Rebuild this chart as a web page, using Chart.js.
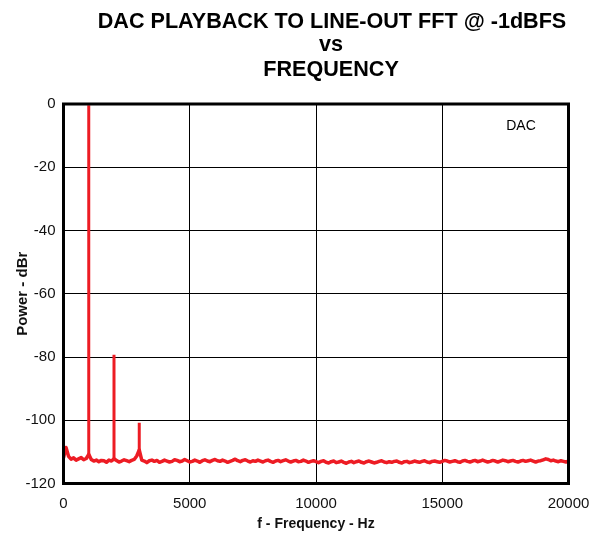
<!DOCTYPE html>
<html>
<head>
<meta charset="utf-8">
<title>DAC Playback to Line-Out FFT</title>
<script src="https://cdn.jsdelivr.net/npm/chart.js@4.4.1/dist/chart.umd.min.js"></script>
<style>
    html, body { margin: 0; padding: 0; background: #fff; }
    #fft-chart { display: block; }
</style>
</head>
<body>
<canvas id="fft-chart" width="593" height="533"></canvas>
<script>
// Title lines and trace label
const titleLines = ['DAC PLAYBACK TO LINE-OUT FFT @ -1dBFS', 'vs', 'FREQUENCY'];
const traceLabel = 'DAC';

// Axis ticks
const freqTicks = [0, 5000, 10000, 15000, 20000];
const powerTicks = [0, -20, -40, -60, -80, -100, -120];

// Noise floor, one reading every 100 Hz from 0 Hz to 20 kHz (dBr)
const floorStartHz = 0;
const floorStepHz = 100;
const floorDbr = [
    -111.9, -108.6, -111.4, -112.3, -111.9, -112.6, -112.2, -111.8, -112.5, -112.1,
    -110.8, -112.4, -112.9, -112.6, -113.1, -112.7, -112.8, -113.3, -112.6, -112.9,
    -112.2, -112.7, -113.2, -112.9, -112.5, -112.8, -113.1, -112.7, -112.4, -111.3,
    -109.4, -112.6, -112.9, -113.4, -112.8, -112.6, -113.0, -112.7, -113.3, -113.0,
    -112.6, -112.9, -113.2, -113.0, -112.5, -112.7, -113.1, -112.9, -112.4, -112.8,
    -113.2, -113.0, -112.6, -112.9, -113.3, -112.8, -112.5, -112.9, -113.1, -112.7,
    -112.4, -112.8, -113.0, -112.6, -112.9, -113.3, -113.0, -112.7, -112.3, -112.8,
    -113.1, -112.7, -112.5, -112.9, -113.2, -112.8, -113.0, -112.6, -112.9, -113.2,
    -112.8, -112.6, -113.0, -113.3, -112.9, -112.7, -113.1, -112.8, -112.5, -112.9,
    -113.2, -112.9, -112.7, -113.1, -113.0, -112.6, -112.9, -113.3, -113.0, -112.8,
    -113.1, -113.4, -113.0, -112.8, -113.3, -113.5, -113.1, -112.9, -113.4, -113.2,
    -112.9, -113.3, -113.6, -113.2, -113.0, -113.4, -113.1, -112.9, -113.3, -113.5,
    -113.1, -112.9, -113.2, -113.5, -113.3, -113.0, -112.8, -113.2, -113.4, -113.1,
    -113.3, -113.0, -112.9, -113.3, -113.5, -113.1, -113.0, -113.4, -113.2, -112.9,
    -113.1, -113.3, -113.0, -112.8, -113.2, -113.4, -113.0, -112.9, -113.1, -113.3,
    -113.0, -112.7, -112.9, -113.2, -113.0, -112.8, -113.1, -113.3, -112.9, -112.7,
    -113.0, -113.2, -112.9, -112.7, -113.1, -112.9, -112.6, -112.9, -113.2, -113.0,
    -112.7, -112.9, -113.2, -112.9, -112.6, -112.8, -113.1, -112.9, -112.7, -113.0,
    -113.2, -112.9, -112.7, -113.0, -112.8, -112.6, -112.9, -113.2, -112.9, -112.8,
    -112.5, -112.2, -112.4, -112.8, -112.6, -112.9, -113.1, -112.8, -113.0, -113.2,
    -112.9
];

// Fundamental and harmonics
const spikeHz = [1000, 2000, 3000];
const spikeBaseDbr = [-111.5, -112.0, -110.0];
const spikePeakDbr = [-0.4, -79.3, -100.8];

const traceColor = '#ed1c24';
const fontFamily = '"Liberation Sans", Arial, Helvetica, sans-serif';

// Build the floor trace
const floorPoints = floorDbr.map((v, i) => ({ x: floorStartHz + i * floorStepHz, y: v }));

// Build the spikes as separate vertical strokes
const spikePoints = [];
spikeHz.forEach((f, i) => {
    spikePoints.push({ x: f, y: spikeBaseDbr[i] });
    spikePoints.push({ x: f, y: spikePeakDbr[i] });
    spikePoints.push({ x: f, y: null });
});

// Draws the heading, the trace label and the heavy frame
const framePlugin = {
    id: 'frame',
    afterDraw(chart) {
        const { ctx, chartArea } = chart;
        ctx.save();
        ctx.strokeStyle = '#000';
        ctx.lineWidth = 3;
        ctx.strokeRect(chartArea.left, chartArea.top, chartArea.right - chartArea.left, chartArea.bottom - chartArea.top);

        ctx.fillStyle = '#000';
        ctx.textAlign = 'center';
        ctx.textBaseline = 'alphabetic';
        ctx.font = 'bold 21.6px ' + fontFamily;
        ctx.fillText(titleLines[0], 332, 28);
        ctx.fillText(titleLines[1], 331, 51);
        ctx.fillText(titleLines[2], 331, 76);

        ctx.font = '14px ' + fontFamily;
        ctx.fillText(traceLabel, 521, 130);
        ctx.restore();
    }
};

new Chart(document.getElementById('fft-chart'), {
    type: 'scatter',
    data: {
        datasets: [{
            label: 'Noise floor',
            data: floorPoints,
            showLine: true,
            borderColor: traceColor,
            borderWidth: 3.5,
            borderJoinStyle: 'round',
            pointRadius: 0,
            tension: 0
        }, {
            label: 'Harmonics',
            data: spikePoints,
            showLine: true,
            spanGaps: false,
            borderColor: traceColor,
            borderWidth: 3,
            pointRadius: 0,
            tension: 0
        }]
    },
    options: {
        responsive: false,
        animation: false,
        devicePixelRatio: 1,
        layout: {
            padding: { top: 104, right: 24.5, bottom: 0, left: 0 }
        },
        plugins: {
            legend: { display: false },
            tooltip: { enabled: false },
            title: { display: false }
        },
        scales: {
            x: {
                type: 'linear',
                min: 0,
                max: 20000,
                afterFit: (scale) => {
                    scale.height = 49.5;
                    scale.paddingLeft = 0;
                    scale.paddingRight = 0;
                },
                afterBuildTicks: (scale) => { scale.ticks = freqTicks.map(v => ({ value: v })); },
                border: { display: false },
                grid: { color: '#000', lineWidth: 1, drawTicks: false },
                ticks: {
                    padding: 11,
                    color: '#111',
                    font: { family: fontFamily, size: 15 },
                    callback: (v) => String(v)
                },
                title: {
                    display: true,
                    text: 'f - Frequency - Hz',
                    color: '#111',
                    font: { family: fontFamily, size: 14, weight: 'bold' },
                    padding: { top: 10, bottom: 0 }
                }
            },
            y: {
                type: 'linear',
                min: -120,
                max: 0,
                afterFit: (scale) => { scale.width = 63.5; },
                afterBuildTicks: (scale) => { scale.ticks = powerTicks.map(v => ({ value: v })); },
                border: { display: false },
                grid: { color: '#000', lineWidth: 1, drawTicks: false },
                ticks: {
                    padding: 8,
                    color: '#111',
                    font: { family: fontFamily, size: 15 },
                    callback: (v) => String(v)
                },
                title: {
                    display: true,
                    text: 'Power - dBr',
                    color: '#111',
                    font: { family: fontFamily, size: 15, weight: 'bold' },
                    padding: { top: 14, bottom: 0 }
                }
            }
        }
    },
    plugins: [framePlugin]
});
</script>
</body>
</html>
